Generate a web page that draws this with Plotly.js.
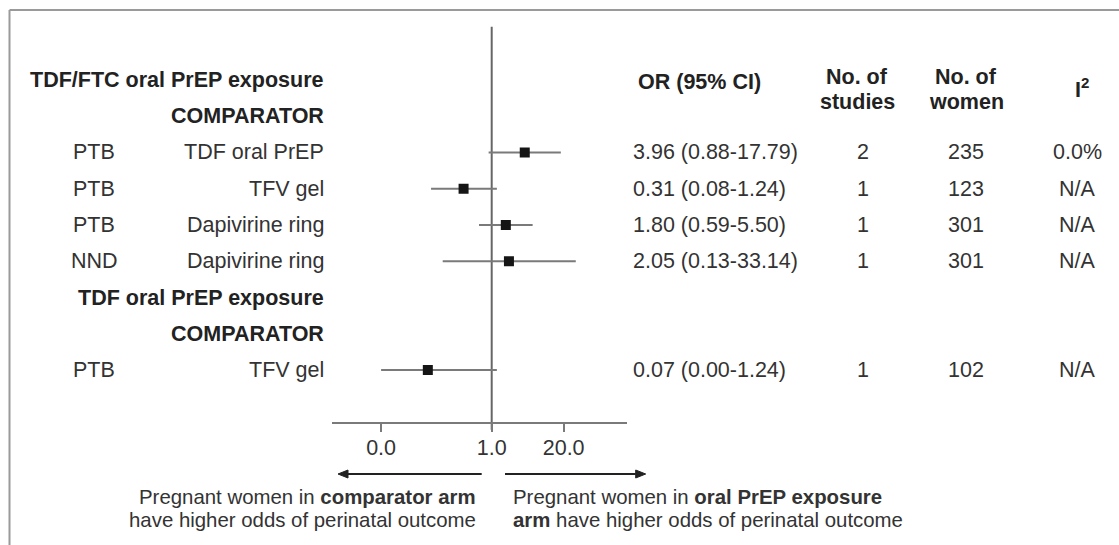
<!DOCTYPE html>
<html><head><meta charset="utf-8">
<script src="https://cdn.plot.ly/plotly-3.0.1.min.js"></script>
<style>html,body{margin:0;padding:0;background:#fff;overflow:hidden}</style>
</head><body><div id="chart" style="width:1119px;height:545px"></div>
<script>
// ---- data ----
const outcomes = ['PTB', 'PTB', 'PTB', 'NND', 'PTB'];
const comparators = ['TDF oral PrEP', 'TFV gel', 'Dapivirine ring', 'Dapivirine ring', 'TFV gel'];
const oddsRatios = [3.96, 0.31, 1.80, 2.05, 0.07];
const ciLow = [0.88, 0.08, 0.59, 0.13, 0.01];
const ciHigh = [17.79, 1.24, 5.50, 33.14, 1.24];
const orLabels = ['3.96 (0.88-17.79)', '0.31 (0.08-1.24)', '1.80 (0.59-5.50)', '2.05 (0.13-33.14)', '0.07 (0.00-1.24)'];
const studies = ['2', '1', '1', '1', '1'];
const women = ['235', '123', '301', '301', '102'];
const i2 = ['0.0%', 'N/A', 'N/A', 'N/A', 'N/A'];
const dataRows = [2, 3, 4, 5, 8];
const groupHeaders = ['TDF/FTC oral PrEP exposure', 'TDF oral PrEP exposure'];
const groupRows = [0, 6];
const comparatorHeaderRows = [1, 7];
const tickVals = [0.01, 1, 20];
const tickText = ['0.0', '1.0', '20.0'];
const leftNote = ['Pregnant women in <b>comparator arm</b>', 'have higher odds of perinatal outcome'];
const rightNote = ['Pregnant women in <b>oral PrEP exposure</b>', '<b>arm</b> have higher odds of perinatal outcome'];

// ---- layout helpers ----
const W = 1119, H = 545;
const px = x => x / W;
const py = y => 1 - y / H;
const FONT = 'Liberation Sans, Arial, sans-serif';
const FS = 21.5;
const txt = '#333333', bold = '#222222';

const trace = {
  type: 'scatter', mode: 'markers',
  x: oddsRatios, y: dataRows,
  marker: {symbol: 'square', size: 10, color: '#151515'},
  error_x: {
    type: 'data', symmetric: false,
    array: oddsRatios.map((v, i) => ciHigh[i] - v),
    arrayminus: oddsRatios.map((v, i) => v - ciLow[i]),
    width: 0, thickness: 2, color: '#7a7a7a'
  },
  hoverinfo: 'skip', showlegend: false, cliponaxis: false
};

const ann = [];
function add(x, y, text, opts) {
  ann.push(Object.assign({
    xref: 'paper', yref: 'y', x: px(x), y: y, text: text, showarrow: false,
    font: {family: FONT, size: FS, color: txt}, xanchor: 'center', yanchor: 'middle'
  }, opts || {}));
}

groupHeaders.forEach((g, k) => {
  add(326, groupRows[k], '<b>' + g + '</b>', {xanchor: 'right', font: {family: FONT, size: FS, color: bold}});
  add(326, comparatorHeaderRows[k], '<b>COMPARATOR</b>', {xanchor: 'right', font: {family: FONT, size: FS, color: bold}});
});
dataRows.forEach((r, i) => {
  add(94, r, outcomes[i]);
  add(326, r, comparators[i], {xanchor: 'right'});
  add(631, r, orLabels[i], {xanchor: 'left'});
  add(863, r, studies[i]);
  add(966, r, women[i]);
  add(1077, r, i2[i]);
});
// column headers (pixel y)
const hdr = (x, y, t) => ann.push({xref: 'paper', yref: 'paper', x: px(x), y: py(y), text: '<b>' + t + '</b>',
  showarrow: false, xanchor: 'center', yanchor: 'middle', font: {family: FONT, size: FS, color: bold}});
hdr(699, 82, 'OR (95% CI)');
hdr(857, 77, 'No. of'); hdr(857, 102, 'studies');
hdr(966, 77, 'No. of'); hdr(966, 102, 'women');
hdr(1082, 88, 'I<sup>2</sup>');

// bottom notes
const note = (x, y, t, anchor) => ann.push({xref: 'paper', yref: 'paper', x: px(x), y: py(y), text: t,
  showarrow: false, xanchor: anchor, yanchor: 'middle', font: {family: FONT, size: 20.4, color: txt}});
note(478, 497, leftNote[0], 'right'); note(478, 520, leftNote[1], 'right');
note(511, 497, rightNote[0], 'left'); note(511, 520, rightNote[1], 'left');

const rowPx = 36.25, row0Px = 80, plotTop = 26.7, plotBot = 421.7, plotL = 331.7, plotR = 627;
const decPx = 55.3, oneX = 491.7;

// arrow shapes (paper coords from pixels)
const arrowY = 474;
function arrowShapes(tail, head) {
  const dir = head < tail ? 1 : -1; // back direction from head
  const base = head + dir * 10;
  return [
    {type: 'line', xref: 'paper', yref: 'paper', x0: px(tail), x1: px(base), y0: py(arrowY), y1: py(arrowY),
      line: {color: '#222', width: 2}},
    {type: 'path', xref: 'paper', yref: 'paper',
      path: `M ${px(head)} ${py(arrowY)} L ${px(base)} ${py(arrowY - 4)} L ${px(base)} ${py(arrowY + 4)} Z`,
      fillcolor: '#222', line: {color: '#222', width: 1}}
  ];
}

const layout = {
  width: W, height: H,
  margin: {l: 0, r: 0, t: 0, b: 0, autoexpand: false},
  paper_bgcolor: '#fff', plot_bgcolor: 'rgba(0,0,0,0)',
  showlegend: false,
  xaxis: {
    type: 'log', domain: [px(plotL), px(plotR)],
    range: [(plotL - oneX) / decPx, (plotR - oneX) / decPx],
    tickvals: tickVals, ticktext: tickText,
    showline: true, linecolor: '#7a7a7a', linewidth: 2,
    ticks: 'outside', ticklen: 8, tickwidth: 2, tickcolor: '#7a7a7a',
    showgrid: false, zeroline: false, fixedrange: true,
    tickfont: {family: FONT, size: FS, color: txt}, ticklabelstandoff: -3
  },
  yaxis: {
    domain: [py(plotBot), py(plotTop)],
    range: [(plotBot - row0Px) / rowPx, (plotTop - row0Px) / rowPx],
    visible: false, showgrid: false, zeroline: false, fixedrange: true
  },
  shapes: [
    {type: 'line', xref: 'x', yref: 'paper', x0: 1, x1: 1, y0: py(plotBot + 8), y1: py(plotTop),
      line: {color: '#666', width: 2}, layer: 'below'},
    {type: 'line', xref: 'paper', yref: 'paper', x0: px(9.5), x1: px(9.5), y0: py(10), y1: 0,
      line: {color: '#9a9a9a', width: 2}},
    {type: 'line', xref: 'paper', yref: 'paper', x0: px(9.5), x1: 1, y0: py(10), y1: py(10),
      line: {color: '#9a9a9a', width: 2}}
  ].concat(arrowShapes(481.7, 338), arrowShapes(505, 645.7)),
  annotations: ann
};

Plotly.newPlot('chart', [trace], layout, {displayModeBar: false, staticPlot: true});
</script>
</body></html>
